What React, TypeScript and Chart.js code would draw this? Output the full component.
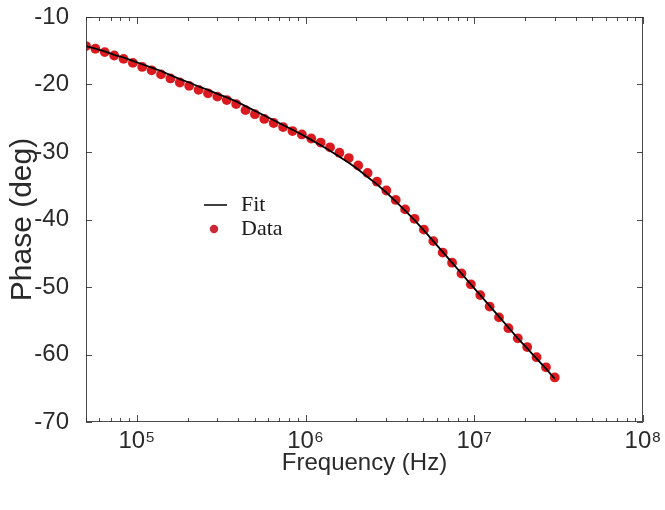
import React, { useEffect, useRef } from "react";
import { Chart, registerables } from "chart.js";

Chart.register(...registerables);

// Frequencies (Hz), log-spaced from 5e4 to 3e7
const frequencies = [
  50000, 56840, 64610, 73440, 83480, 94800, 107740, 122470, 139210, 158240,
  179870, 204450, 232400, 264160, 300270, 341310, 387960, 440980, 501260, 569780,
  647660, 736170, 836790, 951170, 1081200, 1229000, 1396900, 1587900, 1804900, 2051600,
  2332000, 2650800, 3013100, 3424900, 3893000, 4425100, 5030000, 5717500, 6499000, 7387300,
  8397000, 9544700, 10849000, 12332000, 14018000, 15934000, 18112000, 20587000, 23401000, 26600000,
  30000000,
];

// Measured phase (deg)
const measuredPhase = [
  -14.3, -14.7, -15.2, -15.7, -16.2, -16.8, -17.4, -17.9, -18.5, -19.1,
  -19.7, -20.2, -20.8, -21.3, -21.8, -22.3, -22.9, -23.8, -24.4, -25.1,
  -25.7, -26.3, -26.9, -27.4, -28.0, -28.6, -29.3, -30.1, -30.9, -32.0,
  -33.1, -34.4, -35.7, -37.1, -38.5, -39.9, -41.5, -43.2, -44.9, -46.4,
  -48.0, -49.6, -51.2, -52.9, -54.5, -56.1, -57.6, -58.9, -60.4, -61.9,
  -63.4,
];

// Fitted phase (deg)
const fitPhase = [
  -14.3, -14.7, -15.1, -15.6, -16.0, -16.5, -17.0, -17.5, -18.0, -18.6,
  -19.2, -19.7, -20.3, -20.8, -21.4, -21.9, -22.5, -23.2, -23.9, -24.6,
  -25.3, -26.0, -26.7, -27.4, -28.2, -29.0, -29.8, -30.7, -31.6, -32.6,
  -33.7, -34.8, -36.0, -37.3, -38.7, -40.1, -41.6, -43.2, -44.8, -46.4,
  -48.0, -49.6, -51.2, -52.8, -54.4, -56.0, -57.6, -59.1, -60.6, -62.1,
  -63.6,
];

const xDecadeTicks = [1e5, 1e6, 1e7, 1e8];
const yTickValues = [-70, -60, -50, -40, -30, -20, -10];
const seriesNames = ["Fit", "Data"];

const SUP: Record<string, string> = {
  "0": "\u2070", "1": "\u00b9", "2": "\u00b2", "3": "\u00b3", "4": "\u2074",
  "5": "\u2075", "6": "\u2076", "7": "\u2077", "8": "\u2078", "9": "\u2079",
};

const SANS = "'Liberation Sans', Arial, Helvetica, sans-serif";
const SERIF = "'Liberation Serif', 'Times New Roman', serif";
const TEXT = "#2a2a2a";
const DATA_RED = "rgb(218, 26, 30)";

const framePlugin = {
  id: "matlabFrame",
  afterDraw(chart: any) {
    const { ctx, chartArea } = chart;
    const { left, right, top, bottom } = chartArea;
    const xs = chart.scales.x;
    const ys = chart.scales.y;
    ctx.save();
    ctx.strokeStyle = "rgba(45,45,45,0.85)";
    ctx.lineWidth = 1;
    // box
    ctx.strokeRect(left + 0.5, top + 0.5, right - left - 1, bottom - top - 1);
    // y ticks inward on both sides
    ys.ticks.forEach((t: any) => {
      const py = Math.round(ys.getPixelForValue(t.value)) + 0.5;
      ctx.beginPath();
      ctx.moveTo(left, py);
      ctx.lineTo(left + 6, py);
      ctx.moveTo(right, py);
      ctx.lineTo(right - 6, py);
      ctx.stroke();
    });
    // x major + minor ticks
    const minV = xs.min;
    const maxV = xs.max;
    for (let e = 4; e <= 8; e++) {
      for (let k = 1; k <= 9; k++) {
        const v = k * Math.pow(10, e);
        if (v < minV * 0.999 || v > maxV * 1.001) continue;
        const px = Math.round(xs.getPixelForValue(v)) + 0.5;
        const len = k === 1 ? 7 : 4;
        ctx.beginPath();
        ctx.moveTo(px, bottom);
        ctx.lineTo(px, bottom - len);
        ctx.moveTo(px, top);
        ctx.lineTo(px, top + len);
        ctx.stroke();
      }
    }
    // legend
    const lx = left + 118;
    const ly = top + 188;
    ctx.strokeStyle = "#111";
    ctx.lineWidth = 1.6;
    ctx.beginPath();
    ctx.moveTo(lx, ly);
    ctx.lineTo(lx + 23, ly);
    ctx.stroke();
    ctx.fillStyle = "rgb(205, 40, 55)";
    ctx.beginPath();
    ctx.arc(lx + 10, ly + 24, 4.2, 0, Math.PI * 2);
    ctx.fill();
    ctx.fillStyle = "#1a1a1a";
    ctx.font = `22px ${SERIF}`;
    ctx.textBaseline = "middle";
    ctx.textAlign = "left";
    ctx.fillText(seriesNames[0], lx + 37, ly);
    ctx.fillText(seriesNames[1], lx + 37, ly + 24);
    ctx.restore();
  },
};

export default function App() {
  const ref = useRef<HTMLCanvasElement>(null);

  useEffect(() => {
    document.body.style.margin = "0";
    const canvas = ref.current;
    if (!canvas) return;
    const fitPoints = frequencies.map((f, i) => ({ x: f, y: fitPhase[i] }));
    const dataPoints = frequencies.map((f, i) => ({ x: f, y: measuredPhase[i] }));

    const chart = new Chart(canvas, {
      type: "scatter",
      data: {
        datasets: [
          {
            label: seriesNames[0],
            data: fitPoints,
            showLine: true,
            borderColor: "#000",
            borderWidth: 1.8,
            pointRadius: 0,
            order: 0,
          },
          {
            label: seriesNames[1],
            data: dataPoints,
            showLine: false,
            pointRadius: 4.9,
            pointBackgroundColor: DATA_RED,
            pointBorderWidth: 0,
            order: 1,
          },
        ],
      },
      options: {
        responsive: false,
        animation: false,
        events: [],
        layout: { padding: { top: 17, right: 22, left: 0, bottom: 0 } },
        plugins: {
          legend: { display: false },
          tooltip: { enabled: false },
        },
        scales: {
          x: {
            type: "logarithmic",
            min: 5e4,
            max: 1e8,
            afterBuildTicks: (s: any) => {
              s.ticks = xDecadeTicks.map((v) => ({ value: v }));
            },
            afterFit: (s: any) => {
              s.height = 88;
              s.paddingLeft = 0;
              s.paddingRight = 0;
            },
            grid: { display: false, drawTicks: false },
            border: { display: false },
            ticks: {
              autoSkip: false,
              maxRotation: 0,
              padding: 5,
              color: TEXT,
              font: { family: SANS, size: 24 },
              callback: (v: any) => {
                const e = Math.round(Math.log10(Number(v)));
                return "10" + String(e).split("").map((c) => SUP[c]).join("");
              },
            },
            title: {
              display: true,
              text: "Frequency (Hz)",
              color: TEXT,
              font: { family: SANS, size: 24 },
              padding: { top: 0, bottom: 32 },
            },
          },
          y: {
            type: "linear",
            min: -70,
            max: -10,
            afterBuildTicks: (s: any) => {
              s.ticks = yTickValues.map((v) => ({ value: v }));
            },
            afterFit: (s: any) => {
              s.width = 86;
              s.paddingTop = 0;
              s.paddingBottom = 0;
            },
            grid: { display: false, drawTicks: false },
            border: { display: false },
            ticks: {
              padding: 17,
              color: TEXT,
              font: { family: SANS, size: 24 },
            },
            title: {
              display: true,
              text: "Phase (deg)",
              color: TEXT,
              font: { family: SANS, size: 30 },
              padding: { top: 5, bottom: 0 },
            },
          },
        },
      },
      plugins: [framePlugin],
    } as any);

    return () => chart.destroy();
  }, []);

  return (
    <div style={{ width: 665, height: 510, position: "relative" }}>
      <canvas ref={ref} width={665} height={510} style={{ width: 665, height: 510, display: "block" }} />
    </div>
  );
}
